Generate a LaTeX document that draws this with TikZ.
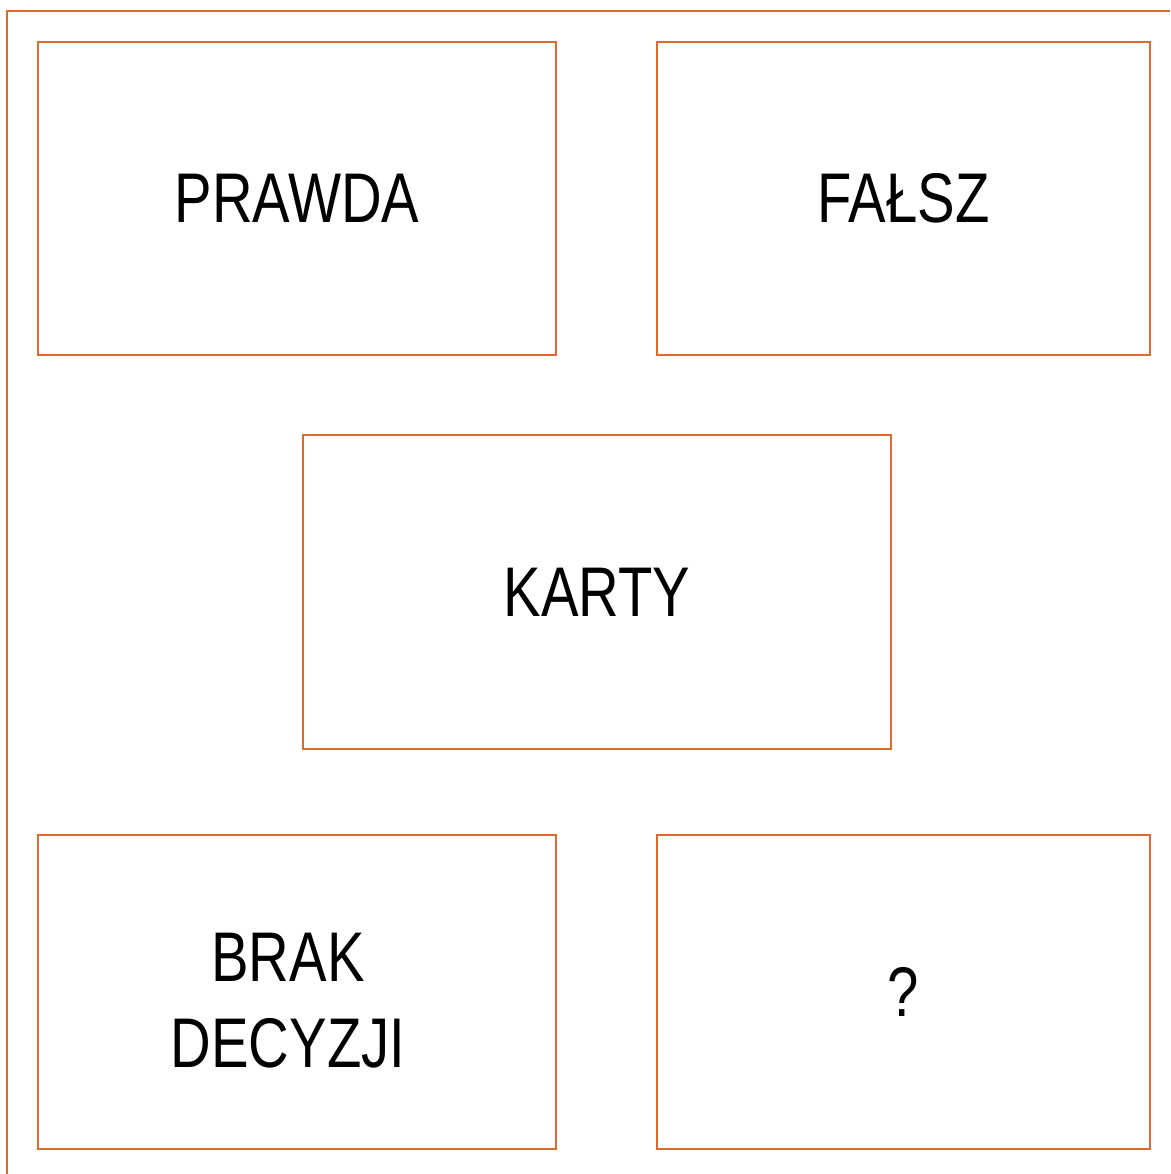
\documentclass[tikz,border=0pt]{standalone}
\usepackage{fontspec}
\setmainfont{Liberation Sans}
\usepackage{tikz}
\usetikzlibrary{calc, positioning}
\usepackage{graphicx}
\definecolor{kartaorange}{RGB}{224,106,44}

\tikzset{
    cardbox/.style={
        draw=kartaorange,      % orange border
        line width=1.4pt,
        text=black,
        align=center,
        inner sep=0pt,
        font=\fontsize{50}{61}\selectfont
    }
}
\newcommand{\cardtext}[1]{\scalebox{0.8}[1]{#1}}

\begin{document}
\begin{tikzpicture}[x=0.025cm, y=-0.025cm]
    \useasboundingbox (0,0) rectangle (1170,1174);

    % frame along the top and the left side
    \coordinate (frametop) at (1170,11);
    \coordinate (framecorner) at (7,11);
    \coordinate (framebottom) at (7,1174);
    \draw[kartaorange, line width=1.6pt] (frametop) -- (framecorner) -- (framebottom);

    % the five cards
    \node[cardbox, minimum width=12.95cm, minimum height=7.83cm] (prawda) at (297,198.5) {\cardtext{PRAWDA}};
    \node[cardbox, minimum width=12.33cm, minimum height=7.83cm] (falsz) at (903.5,198.5) {\cardtext{FAŁSZ}};
    \node[cardbox, minimum width=14.7cm, minimum height=7.85cm] (karty) at (597,592) {\cardtext{KARTY}};
    \node[cardbox, minimum width=12.95cm, minimum height=7.85cm] (brak) at (297,992) {};
    \node[font=\fontsize{50}{61}\selectfont, align=center, inner sep=0pt] (braktext) at (288,1001) {\cardtext{BRAK}\\\cardtext{DECYZJI}};
    \node[cardbox, minimum width=12.33cm, minimum height=7.85cm] (pytanie) at (903.5,992) {\cardtext{?}};
\end{tikzpicture}
\end{document}
